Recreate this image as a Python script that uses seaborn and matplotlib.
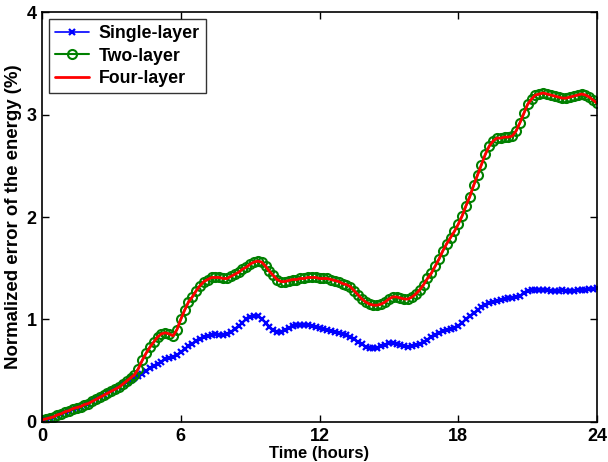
import numpy as np
import pandas as pd
import matplotlib
matplotlib.use("Agg")
import matplotlib.pyplot as plt
import seaborn as sns

# time axis: one sample every 10 minutes
time_hours = [i / 6.0 for i in range(145)]

single_layer = [
    0.02, 0.03, 0.04, 0.05, 0.07, 0.08,
    0.10, 0.11, 0.13, 0.14, 0.15, 0.17,
    0.18, 0.20, 0.22, 0.24, 0.26, 0.28,
    0.30, 0.32, 0.34, 0.37, 0.39, 0.41,
    0.43, 0.45, 0.47, 0.50, 0.53, 0.55,
    0.57, 0.59, 0.61, 0.62, 0.63, 0.65,
    0.68, 0.71, 0.74, 0.76, 0.79, 0.81,
    0.83, 0.84, 0.85, 0.86, 0.85, 0.85,
    0.86, 0.88, 0.91, 0.94, 0.97, 1.00,
    1.02, 1.03, 1.03, 1.00, 0.97, 0.93,
    0.90, 0.88, 0.88, 0.90, 0.92, 0.94,
    0.95, 0.95, 0.95, 0.95, 0.94, 0.93,
    0.92, 0.91, 0.90, 0.89, 0.88, 0.87,
    0.86, 0.85, 0.83, 0.81, 0.78, 0.76,
    0.73, 0.72, 0.72, 0.72, 0.74, 0.75,
    0.77, 0.77, 0.76, 0.75, 0.74, 0.73,
    0.74, 0.75, 0.76, 0.78, 0.80, 0.83,
    0.85, 0.87, 0.89, 0.90, 0.91, 0.92,
    0.94, 0.97, 1.00, 1.03, 1.06, 1.09,
    1.12, 1.14, 1.16, 1.17, 1.18, 1.19,
    1.20, 1.21, 1.21, 1.22, 1.23, 1.26,
    1.28, 1.29, 1.29, 1.29, 1.29, 1.29,
    1.28, 1.28, 1.28, 1.29, 1.28, 1.28,
    1.28, 1.29, 1.29, 1.29, 1.30, 1.30,
    1.31,
]

two_layer = [
    0.02, 0.03, 0.04, 0.05, 0.07, 0.08,
    0.10, 0.11, 0.13, 0.14, 0.15, 0.17,
    0.18, 0.20, 0.22, 0.24, 0.26, 0.28,
    0.30, 0.32, 0.34, 0.37, 0.40, 0.43,
    0.46, 0.52, 0.60, 0.67, 0.73, 0.78,
    0.83, 0.86, 0.87, 0.86, 0.84, 0.90,
    1.00, 1.09, 1.17, 1.22, 1.28, 1.33,
    1.37, 1.39, 1.41, 1.41, 1.41, 1.40,
    1.40, 1.42, 1.44, 1.46, 1.49, 1.51,
    1.54, 1.56, 1.57, 1.56, 1.52, 1.47,
    1.43, 1.39, 1.37, 1.37, 1.38, 1.39,
    1.39, 1.40, 1.40, 1.41, 1.41, 1.41,
    1.40, 1.40, 1.40, 1.39, 1.38, 1.37,
    1.35, 1.34, 1.32, 1.28, 1.24, 1.20,
    1.17, 1.15, 1.14, 1.14, 1.15, 1.17,
    1.20, 1.22, 1.22, 1.21, 1.20, 1.20,
    1.22, 1.25, 1.29, 1.34, 1.40, 1.45,
    1.52, 1.59, 1.67, 1.74, 1.80, 1.86,
    1.93, 2.01, 2.11, 2.20, 2.31, 2.41,
    2.51, 2.61, 2.69, 2.74, 2.77, 2.77,
    2.78, 2.78, 2.79, 2.84, 2.92, 3.01,
    3.10, 3.15, 3.19, 3.20, 3.21, 3.20,
    3.19, 3.18, 3.17, 3.16, 3.16, 3.17,
    3.18, 3.19, 3.20, 3.19, 3.17, 3.14,
    3.11,
]

four_layer = [
    0.02, 0.03, 0.04, 0.05, 0.07, 0.08,
    0.10, 0.11, 0.13, 0.14, 0.15, 0.17,
    0.18, 0.20, 0.22, 0.24, 0.26, 0.28,
    0.30, 0.32, 0.34, 0.37, 0.40, 0.43,
    0.46, 0.52, 0.60, 0.67, 0.73, 0.78,
    0.83, 0.86, 0.87, 0.86, 0.84, 0.90,
    1.00, 1.09, 1.17, 1.22, 1.28, 1.33,
    1.37, 1.39, 1.41, 1.41, 1.41, 1.40,
    1.40, 1.42, 1.44, 1.46, 1.49, 1.51,
    1.54, 1.56, 1.57, 1.56, 1.52, 1.47,
    1.43, 1.39, 1.37, 1.37, 1.38, 1.39,
    1.39, 1.40, 1.40, 1.41, 1.41, 1.41,
    1.40, 1.40, 1.40, 1.39, 1.38, 1.37,
    1.35, 1.34, 1.32, 1.28, 1.24, 1.20,
    1.17, 1.15, 1.14, 1.14, 1.15, 1.17,
    1.20, 1.22, 1.22, 1.21, 1.20, 1.20,
    1.22, 1.25, 1.29, 1.34, 1.40, 1.45,
    1.52, 1.59, 1.67, 1.74, 1.80, 1.86,
    1.93, 2.01, 2.11, 2.20, 2.31, 2.41,
    2.51, 2.61, 2.69, 2.74, 2.77, 2.77,
    2.78, 2.78, 2.79, 2.84, 2.92, 3.01,
    3.10, 3.15, 3.19, 3.20, 3.21, 3.20,
    3.19, 3.18, 3.17, 3.16, 3.16, 3.17,
    3.18, 3.19, 3.20, 3.19, 3.17, 3.14,
    3.11,
]

series_labels = ["Single-layer", "Two-layer", "Four-layer"]
x_ticks = [0, 6, 12, 18, 24]
y_ticks = [0, 1, 2, 3, 4]

sns.set_style("white")
plt.rcParams["font.family"] = ["Liberation Sans", "DejaVu Sans"]
plt.rcParams["font.weight"] = "bold"
plt.rcParams["text.color"] = "black"
plt.rcParams["axes.labelcolor"] = "black"
plt.rcParams["xtick.color"] = "black"
plt.rcParams["ytick.color"] = "black"

fig = plt.figure(figsize=(6.08, 4.62), dpi=100)
ax = fig.add_axes([0.069, 0.0866, 0.913, 0.8874])

sns.lineplot(x=time_hours, y=single_layer, ax=ax, color="#0000ff",
             linewidth=1.2, marker="x", markersize=3.8, markeredgewidth=1.6,
             markeredgecolor="#0000ff", label=series_labels[0],
             estimator=None, sort=False)
sns.lineplot(x=time_hours, y=two_layer, ax=ax, color="#008000",
             linewidth=1.5, marker="o", markersize=6.5, markeredgewidth=1.5,
             markerfacecolor="none", markeredgecolor="#008000",
             label=series_labels[1], estimator=None, sort=False)
sns.lineplot(x=time_hours, y=four_layer, ax=ax, color="#ff0000",
             linewidth=2.0, label=series_labels[2], estimator=None, sort=False)

ax.set_xlim(0, 24)
ax.set_ylim(0, 4)
ax.set_xticks(x_ticks)
ax.set_yticks(y_ticks)
ax.set_xticklabels([str(t) for t in x_ticks], fontsize=13, fontweight="bold")
ax.set_yticklabels([str(t) for t in y_ticks], fontsize=13, fontweight="bold")
ax.tick_params(direction="in", length=5, width=1, top=True, right=True,
               bottom=True, left=True, pad=4)
for s in ax.spines.values():
    s.set_visible(True)
    s.set_color("black")
    s.set_linewidth(1.2)

ax.set_xlabel("Time (hours)", fontsize=12, fontweight="bold", labelpad=1)
ax.set_ylabel("Normalized error of the energy (%)", fontsize=13.4,
              fontweight="bold", labelpad=3)

leg = ax.legend(loc="upper left", frameon=True, fancybox=False,
                edgecolor="black", fontsize=12.8, borderpad=0.35,
                handlelength=1.9, handletextpad=0.55, labelspacing=0.3,
                borderaxespad=0.4)
leg.get_frame().set_linewidth(1.0)
for t in leg.get_texts():
    t.set_fontweight("bold")
    t.set_color("black")

fig.savefig("out.png", dpi=100, facecolor="white")
